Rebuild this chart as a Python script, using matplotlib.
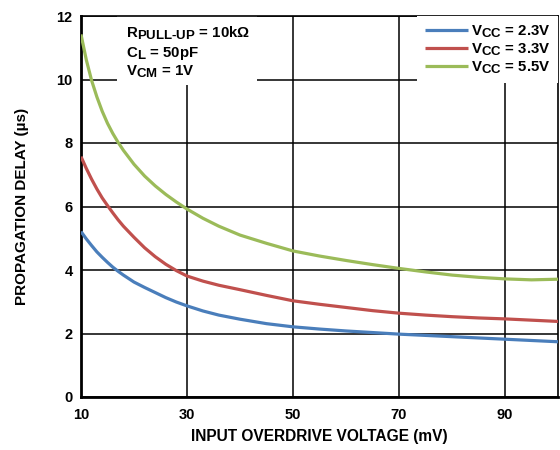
import matplotlib
matplotlib.use("Agg")
import matplotlib.pyplot as plt
import matplotlib._mathtext as _mt
from matplotlib.patches import Rectangle

plt.rcParams['font.family'] = ['Liberation Sans', 'DejaVu Sans']
plt.rcParams['mathtext.fontset'] = 'custom'
plt.rcParams['mathtext.rm'] = 'Liberation Sans:bold'
plt.rcParams['mathtext.bf'] = 'Liberation Sans:bold'
plt.rcParams['mathtext.it'] = 'Liberation Sans:italic'
# larger subscripts, as in datasheet typography
_mt.SHRINK_FACTOR = 0.88

# Input overdrive voltage (mV)
overdrive_mv = [10, 11, 12, 13, 14, 15, 16, 17, 18, 20, 22, 24, 26, 28, 30,
                33, 36, 40, 45, 50, 55, 60, 65, 70, 75, 80, 85, 90, 95, 100]

# Propagation delay (us) for each supply voltage
delay_vcc_2v3 = [5.21, 4.98, 4.77, 4.57, 4.40, 4.24, 4.09, 3.96, 3.84, 3.62,
                 3.45, 3.29, 3.13, 2.99, 2.87, 2.71, 2.58, 2.45, 2.31, 2.21,
                 2.14, 2.08, 2.03, 1.98, 1.94, 1.90, 1.86, 1.82, 1.78, 1.74]
delay_vcc_3v3 = [7.57, 7.20, 6.86, 6.55, 6.27, 6.03, 5.80, 5.58, 5.38, 5.03,
                 4.70, 4.42, 4.18, 3.98, 3.81, 3.65, 3.52, 3.38, 3.20, 3.03,
                 2.92, 2.82, 2.72, 2.64, 2.58, 2.53, 2.49, 2.46, 2.42, 2.38]
delay_vcc_5v5 = [11.42, 10.62, 9.97, 9.45, 9.00, 8.62, 8.30, 8.02, 7.77, 7.33,
                 6.96, 6.65, 6.38, 6.14, 5.92, 5.63, 5.38, 5.10, 4.84, 4.60,
                 4.44, 4.30, 4.17, 4.05, 3.94, 3.84, 3.77, 3.72, 3.69, 3.71]

series_labels = [r'$\mathbf{V_{CC}}$ = 2.3V', r'$\mathbf{V_{CC}}$ = 3.3V',
                 r'$\mathbf{V_{CC}}$ = 5.5V']
series_colors = ['#4a7ebb', '#c0504d', '#9bbb59']

x_ticks = [10, 30, 50, 70, 90]
y_ticks = [0, 2, 4, 6, 8, 10, 12]

W, H = 560, 450
fig = plt.figure(figsize=(W / 100, H / 100), dpi=100)
L, R, T, B = 81, 558, 16, 397
ax = fig.add_axes([L / W, 1 - B / H, (R - L) / W, (B - T) / H])

for ys, lab, col in zip([delay_vcc_2v3, delay_vcc_3v3, delay_vcc_5v5],
                        series_labels, series_colors):
    ax.plot(overdrive_mv, ys, color=col, lw=2.3, label=lab, zorder=4,
            solid_capstyle='butt')

ax.set_xlim(10, 100)
ax.set_ylim(0, 12)
ax.set_xticks(x_ticks)
ax.set_yticks(y_ticks)
ax.grid(True, color='black', lw=1.1, zorder=1)
ax.set_axisbelow(True)
ax.tick_params(length=0, labelsize=10.5)
ax.tick_params(axis='x', pad=8)
ax.tick_params(axis='y', pad=6)
for t in ax.get_xticklabels() + ax.get_yticklabels():
    t.set_fontweight('bold')
for s in ax.spines.values():
    s.set_linewidth(1.2)
ax.spines['left'].set_linewidth(2.0)
ax.spines['bottom'].set_linewidth(2.0)

ax.set_xlabel('INPUT OVERDRIVE VOLTAGE (mV)', fontsize=11.2, fontweight='bold',
              labelpad=5)
ax.set_ylabel('PROPAGATION DELAY (µs)', fontsize=11, fontweight='bold',
              labelpad=20)

# White panel behind the test-condition notes
def ax_x(px):
    return (px - L) / (R - L)

def ax_y(py):
    return (B - py) / (B - T)

ax.add_patch(Rectangle((ax_x(117), ax_y(85)), ax_x(257) - ax_x(117),
                       1 - ax_y(85), transform=ax.transAxes,
                       facecolor='white', edgecolor='none', zorder=2))
notes = ['$\\mathbf{R_{PULL\u2010UP}}$ = 10kΩ',
         r'$\mathbf{C_{L}}$ = 50pF',
         r'$\mathbf{V_{CM}}$ = 1V']
for i, txt in enumerate(notes):
    ax.text(ax_x(126), ax_y(37.5 + 19 * i), txt, transform=ax.transAxes,
            fontsize=10.8, fontweight='bold', va='baseline', ha='left',
            zorder=5)

leg = ax.legend(loc='upper right', borderaxespad=0, frameon=True,
                fancybox=False, handlelength=2.9, handletextpad=0.2,
                labelspacing=0.1, borderpad=0.5, fontsize=10.8)
leg.get_frame().set_edgecolor('none')
leg.get_frame().set_facecolor('white')
leg.get_frame().set_alpha(1)
leg.set_zorder(6)
for t in leg.get_texts():
    t.set_fontweight('bold')
for h in leg.get_lines():
    h.set_linewidth(2.3)

fig.savefig('out.png', dpi=100)
